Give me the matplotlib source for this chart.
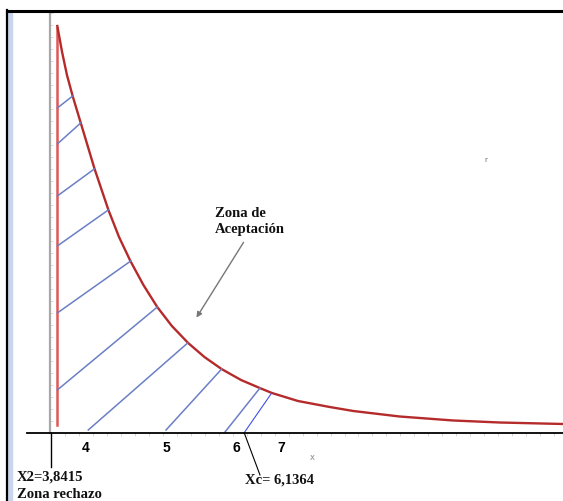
import matplotlib.pyplot as plt
from matplotlib.patches import Rectangle
from matplotlib.lines import Line2D
import numpy as np

# critical values
x2_crit = 3.8415
x_calc = 6.1364

# density curve
curve_x = [3.8415, 3.90, 3.96, 4.03, 4.13, 4.30, 4.47, 4.60, 4.74, 4.90, 5.07,
           5.25, 5.45, 5.65, 5.86, 6.10, 6.33, 6.48, 6.80, 7.19, 7.48, 8.05,
           8.71, 9.28, 10.06]
curve_y = [0.407, 0.381, 0.358, 0.337, 0.310, 0.264, 0.223, 0.196, 0.172, 0.148,
           0.126, 0.107, 0.090, 0.076, 0.064, 0.053, 0.045, 0.040, 0.032, 0.026,
           0.022, 0.0165, 0.0125, 0.0105, 0.009]

# hatch segments (start -> end on the curve)
hatch_x0 = [3.8415, 3.8415, 3.8415, 3.8415, 3.8415, 3.8415, 4.222, 5.178, 5.903]
hatch_y0 = [0.325, 0.289, 0.237, 0.187, 0.120, 0.043, 0.003, 0.003, 0.001]
hatch_x1 = [4.031, 4.129, 4.296, 4.468, 4.744, 5.071, 5.444, 5.862, 6.333]
hatch_y1 = [0.337, 0.310, 0.264, 0.223, 0.172, 0.126, 0.090, 0.064, 0.045]
xc_seg_x = [x_calc, 6.477]
xc_seg_y = [0.0, 0.040]

tick_pos = [4.194, 5.178, 6.038, 6.591]
tick_labels = ['4', '5', '6', '7']


def main():
    fig = plt.figure(figsize=(5.63, 5.01), dpi=100)
    ax = fig.add_axes([0, 0, 1, 1])
    ax.set_xlim(3.137, 10.058)
    ax.set_ylim(-0.068, 0.433)
    ax.patch.set_alpha(0)

    # screenshot frame
    fig.patches.append(Rectangle((7 / 563, 0), 5 / 563, 489 / 501, transform=fig.transFigure,
                                 color='#c9d5ea', zorder=0))
    fig.lines.append(Line2D([7 / 563, 1], [490 / 501, 490 / 501], transform=fig.transFigure,
                            color='black', lw=2.2))
    fig.lines.append(Line2D([7 / 563, 7 / 563], [0, 491 / 501], transform=fig.transFigure,
                            color='black', lw=1.6))

    # axes
    for s in ['top', 'right']:
        ax.spines[s].set_visible(False)
    ax.spines['bottom'].set_position(('data', 0))
    ax.spines['bottom'].set_bounds(3.469, 10.058)
    ax.spines['bottom'].set_linewidth(1.3)
    ax.spines['left'].set_position(('data', 3.752))
    ax.spines['left'].set_bounds(0, 0.421)
    ax.spines['left'].set_color('#a8a8a8')
    ax.spines['left'].set_linewidth(1.6)

    ax.set_xticks(tick_pos, tick_labels)
    ax.set_xticks(np.arange(3.76, 10.06, 0.172), minor=True)
    ax.tick_params(axis='x', which='major', length=0, pad=6, labelsize=10)
    ax.tick_params(axis='x', which='minor', length=2.5, color='#d0d0d0', direction='out')
    for lab in ax.get_xticklabels():
        lab.set_fontweight('bold')
        lab.set_family('Liberation Sans')
    ax.set_yticks([])
    ax.set_yticks(np.arange(0.0, 0.421, 0.012), minor=True)
    ax.tick_params(axis='y', which='minor', length=2, color='#d4d4d4', direction='in')

    # rejection boundary and curve
    ax.plot([x2_crit, x2_crit], [0.008, 0.405], color='#e05858', lw=1.8)
    ax.plot(curve_x, curve_y, color='#b52a2a', lw=1.7)

    # hatch
    for a, b, c, d in zip(hatch_x0, hatch_y0, hatch_x1, hatch_y1):
        ax.plot([a, c], [b, d], color='#6b7fc4', lw=1.1)
    ax.plot(xc_seg_x, xc_seg_y, color='#3f4fe8', lw=0.8)

    # annotations
    serif = dict(family='Liberation Serif', fontweight='bold', fontsize=10.5, color='#111111')
    ax.text(5.78, 0.226, 'Zona de\nAceptación', va='top', ha='left', linespacing=1.25, **serif)
    ax.annotate('', xy=(5.534, 0.113), xytext=(6.149, 0.193),
                arrowprops=dict(arrowstyle='-|>', color='#777777', lw=1, mutation_scale=8))
    ax.plot([3.764, 3.764], [0, -0.034], color='black', lw=1)
    ax.plot([6.140, 6.333], [0, -0.042], color='black', lw=0.8)
    ax.text(3.346, -0.044, 'X2=3,8415', va='center', ha='left', **serif)
    ax.text(3.346, -0.061, 'Zona rechazo', va='center', ha='left', **serif)
    ax.text(6.149, -0.047, 'Xc= 6,1364', va='center', ha='left', **serif)
    ax.text(6.97, -0.025, 'x', va='center', ha='center', fontsize=6, color='#888888')
    ax.text(9.11, 0.273, 'r', va='center', ha='center', fontsize=5, color='#666666')

    fig.savefig('out.png', dpi=100)


if __name__ == '__main__':
    main()
